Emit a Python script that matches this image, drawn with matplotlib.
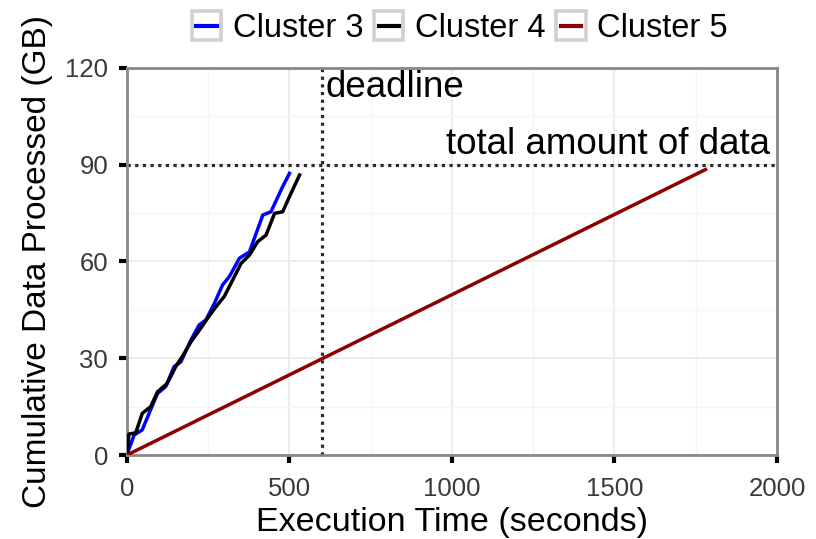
import numpy as np
import matplotlib.pyplot as plt
from matplotlib.lines import Line2D
from matplotlib.patches import Rectangle
from matplotlib.legend_handler import HandlerBase
from matplotlib.ticker import MultipleLocator

plt.rcParams['font.family'] = ['Liberation Sans', 'DejaVu Sans']

# cumulative data processed (GB) over execution time (s)
c3_time = [0, 6, 22, 47, 68, 94, 119, 145, 166, 197, 222, 243, 269, 294, 315, 346, 377, 418, 443, 479, 500]
c3_data = [0, 1.8, 6.2, 7.8, 12.9, 19.1, 21.2, 27.4, 28.9, 35.7, 40.3, 41.9, 47.0, 52.7, 55.3, 61.0, 63.0, 74.4, 75.4, 83.2, 87.3]
c4_time = [0, 6, 27, 47, 73, 94, 124, 150, 176, 197, 227, 248, 274, 299, 320, 351, 377, 402, 428, 454, 479, 500, 531]
c4_data = [0, 6.5, 6.9, 12.9, 15.0, 19.6, 22.2, 27.4, 31.5, 35.1, 39.3, 42.4, 46.0, 49.1, 53.2, 59.4, 62.0, 66.1, 68.2, 74.9, 75.4, 80.1, 86.8]
c5_time = [0, 1780]
c5_data = [0, 88.5]

deadline = 600
total_data = 90

series = [
    ('Cluster 3', c3_time, c3_data, '#0000ff'),
    ('Cluster 4', c4_time, c4_data, '#000000'),
    ('Cluster 5', c5_time, c5_data, '#8b0000'),
]


class BoxedKey(HandlerBase):
    # legend key: grey-framed square with the series line across it
    def create_artists(self, legend, orig_handle, xdescent, ydescent,
                       width, height, fontsize, trans):
        side = height
        x0 = -xdescent + (width - side) / 2
        y0 = -ydescent
        box = Rectangle((x0, y0), side, side, facecolor='white',
                        edgecolor='#d3d0cb', linewidth=2.6, transform=trans)
        ln = Line2D([x0 + side * 0.15, x0 + side * 0.85], [y0 + side / 2] * 2,
                    color=orig_handle.get_color(), linewidth=3.0, transform=trans)
        return [box, ln]


fig = plt.figure(figsize=(8.16, 5.39), dpi=100)
ax = fig.add_axes([0.1556, 0.1558, 0.7966, 0.7182])

handles = []
for name, t, d, col in series:
    h, = ax.plot(t, d, color=col, linewidth=2.5, label=name, zorder=3)
    handles.append(h)

dots = (0, (1, 1.4))
ax.axhline(total_data, color='#2a2a2a', linestyle=dots, linewidth=2.3, zorder=2)
ax.axvline(deadline, color='#2a2a2a', linestyle=dots, linewidth=2.3, zorder=2)
ax.text(deadline + 10, 114, 'deadline', fontsize=26.5, va='center', ha='left')
ax.text(1978, 96.3, 'total amount of data', fontsize=26.5, va='center', ha='right')

ax.set_xlim(0, 2000)
ax.set_ylim(0, 120)
ax.xaxis.set_major_locator(MultipleLocator(500))
ax.xaxis.set_minor_locator(MultipleLocator(250))
ax.yaxis.set_major_locator(MultipleLocator(30))
ax.yaxis.set_minor_locator(MultipleLocator(15))
ax.grid(which='major', color='#ebebeb', linewidth=1.3, zorder=0)
ax.grid(which='minor', color='#f5f5f5', linewidth=1.0, zorder=0)
ax.set_axisbelow(True)

for s in ax.spines.values():
    s.set_color('#888888')
    s.set_linewidth(2)
ax.tick_params(which='major', length=5.5, width=3, color='black', direction='out',
               labelsize=18.5, labelcolor='#3a3a3a')
ax.tick_params(axis='x', pad=10)
ax.tick_params(axis='y', pad=8)
ax.tick_params(which='minor', length=0)

ax.set_xlabel('Execution Time (seconds)', fontsize=24.5, labelpad=5)
ax.set_ylabel('Cumulative Data Processed (GB)', fontsize=24, labelpad=9)

fig.legend(handles=handles, labels=[s[0] for s in series], loc='center',
           bbox_to_anchor=(0.5625, 0.949), ncol=3, frameon=False, fontsize=23.5,
           handler_map={Line2D: BoxedKey()}, handlelength=1.0, handleheight=1.0,
           handletextpad=0.3, columnspacing=0.28, borderpad=0, borderaxespad=0)

fig.savefig('out.png', dpi=100)
